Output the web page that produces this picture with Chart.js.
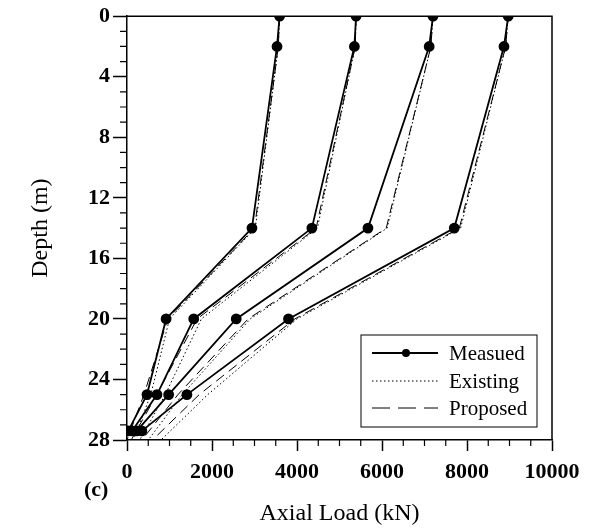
<html><head><meta charset="UTF-8"><title>Axial Load vs Depth</title><style>
body {
    margin: 0;
    background-color: white;
}
.chart-container {
    width: 595px;
    height: 528px;
}
</style>
<script src="https://cdn.jsdelivr.net/npm/chart.js"></script>
</head>
<body>
<div class="chart-container">
    <canvas id="loadChart" width="595" height="528"></canvas>
</div>

<script>
// depths (m)
const depthMeasured = [0, 2, 14, 20, 25, 27.4];
const depthPredicted = [0, 2, 14, 20, 25, 28];

// axial load (kN), one array per load step
const measured1 = [3590, 3530, 2940, 920, 470, 30];
const measured2 = [5390, 5350, 4350, 1570, 706, 120];
const measured3 = [7200, 7110, 5670, 2570, 980, 230];
const measured4 = [8970, 8870, 7700, 3800, 1410, 350];

const existing1 = [3590, 3560, 3020, 1000, 560, 150];
const existing2 = [5390, 5370, 4480, 1750, 900, 300];
const existing3 = [7200, 7150, 6120, 2900, 1300, 500];
const existing4 = [8970, 8910, 7850, 4000, 1900, 800];

const proposed1 = [3590, 3560, 3000, 960, 400, 0];
const proposed2 = [5390, 5370, 4450, 1650, 700, 100];
const proposed3 = [7200, 7150, 6100, 2850, 1200, 350];
const proposed4 = [8970, 8910, 7820, 3950, 1700, 600];

const legendLabels = ['Measued', 'Existing', 'Proposed'];
const xTickLabels = ['0', '2000', '4000', '6000', '8000', '10000'];
const yTickLabels = ['0', '4', '8', '12', '16', '20', '24', '28'];

function toPoints(loads, depths) {
    return loads.map((v, i) => ({ x: v, y: depths[i] }));
}

function tickText(list) {
    return v => (list.indexOf(String(v)) !== -1 ? String(v) : '');
}

const datasets = [];
[existing1, existing2, existing3, existing4].forEach(arr => {
    datasets.push({
        label: 'Existing',
        data: toPoints(arr, depthPredicted),
        borderColor: '#000',
        borderWidth: 1,
        borderDash: [1.5, 2.5],
        pointRadius: 0,
        showLine: true
    });
});
[proposed1, proposed2, proposed3, proposed4].forEach(arr => {
    datasets.push({
        label: 'Proposed',
        data: toPoints(arr, depthPredicted),
        borderColor: '#000',
        borderWidth: 1,
        borderDash: [10, 6],
        pointRadius: 0,
        showLine: true
    });
});
[measured1, measured2, measured3, measured4].forEach(arr => {
    datasets.push({
        label: 'Measued',
        data: toPoints(arr, depthMeasured),
        borderColor: '#000',
        backgroundColor: '#000',
        borderWidth: 1.8,
        pointRadius: 4.5,
        pointBackgroundColor: '#000',
        showLine: true
    });
});

const serif = 'Liberation Serif';

// frame, minor ticks, legend box and panel letter
const extras = {
    id: 'extras',
    afterDraw(chart) {
        const ctx = chart.ctx;
        const area = chart.chartArea;
        const xs = chart.scales.x;
        const ys = chart.scales.y;
        ctx.save();
        ctx.strokeStyle = '#000';
        ctx.lineWidth = 1.5;
        ctx.beginPath();
        ctx.moveTo(area.left, area.top);
        ctx.lineTo(area.right, area.top);
        ctx.lineTo(area.right, area.bottom);
        ctx.stroke();

        // minor ticks
        ctx.lineWidth = 1.2;
        ctx.beginPath();
        for (let v = 500; v < 10000; v += 500) {
            if (v % 2000 === 0) continue;
            const px = xs.getPixelForValue(v);
            ctx.moveTo(px, area.bottom);
            ctx.lineTo(px, area.bottom + 6);
        }
        for (let d = 1; d < 28; d++) {
            if (d % 4 === 0) continue;
            const py = ys.getPixelForValue(d);
            ctx.moveTo(area.left, py);
            ctx.lineTo(area.left - 7, py);
        }
        ctx.stroke();

        // legend
        const bx = 361, by = 335, bw = 176, bh = 92;
        ctx.lineWidth = 1;
        ctx.strokeRect(bx, by, bw, bh);
        ctx.font = '21px "' + serif + '"';
        ctx.fillStyle = '#000';
        ctx.textBaseline = 'middle';
        const rows = [by + 18, by + 46, by + 73];
        const dashes = [[], [1.5, 2.5], [18, 8]];
        legendLabels.forEach((lab, i) => {
            ctx.setLineDash(dashes[i]);
            ctx.lineWidth = i === 0 ? 1.8 : 1;
            ctx.beginPath();
            ctx.moveTo(372, rows[i]);
            ctx.lineTo(438, rows[i]);
            ctx.stroke();
            ctx.setLineDash([]);
            if (i === 0) {
                ctx.beginPath();
                ctx.arc(406, rows[i], 4, 0, Math.PI * 2);
                ctx.fill();
            }
            ctx.fillText(lab, 449, rows[i] + 1);
        });

        ctx.font = 'bold 22px "' + serif + '"';
        ctx.textAlign = 'left';
        ctx.fillText('(c)', 84, 490);
        ctx.restore();
    }
};

const chart = new Chart(document.getElementById('loadChart'), {
    type: 'scatter',
    data: { datasets: datasets },
    options: {
        responsive: false,
        animation: false,
        layout: { padding: { top: 13, right: 43, left: 0, bottom: 0 } },
        plugins: {
            legend: { display: false },
            tooltip: { enabled: false }
        },
        scales: {
            x: {
                type: 'linear',
                min: 0,
                max: 10000,
                ticks: {
                    stepSize: 2000,
                    color: '#000',
                    maxRotation: 0,
                    padding: 8,
                    font: { family: serif, size: 22, weight: 'bold' },
                    callback: tickText(xTickLabels)
                },
                grid: { drawOnChartArea: false, tickLength: 11, tickColor: '#000', tickWidth: 1.5 },
                border: { color: '#000', width: 1.5 },
                title: {
                    display: true,
                    text: 'Axial Load (kN)',
                    color: '#000',
                    font: { family: serif, size: 24 },
                    padding: { top: 0, bottom: 0 }
                },
                afterFit: s => { s.height = 88; }
            },
            y: {
                type: 'linear',
                reverse: true,
                min: 0,
                max: 28,
                ticks: {
                    stepSize: 4,
                    color: '#000',
                    padding: 3,
                    font: { family: serif, size: 22, weight: 'bold' },
                    callback: tickText(yTickLabels)
                },
                grid: { drawOnChartArea: false, tickLength: 14, tickColor: '#000', tickWidth: 1.5 },
                border: { color: '#000', width: 1.5 },
                title: {
                    display: true,
                    text: 'Depth (m)',
                    color: '#000',
                    font: { family: serif, size: 24 },
                    padding: { top: 26, bottom: 0 }
                },
                afterFit: s => { s.width = 127; }
            }
        }
    },
    plugins: [extras]
});
</script>
</body></html>
